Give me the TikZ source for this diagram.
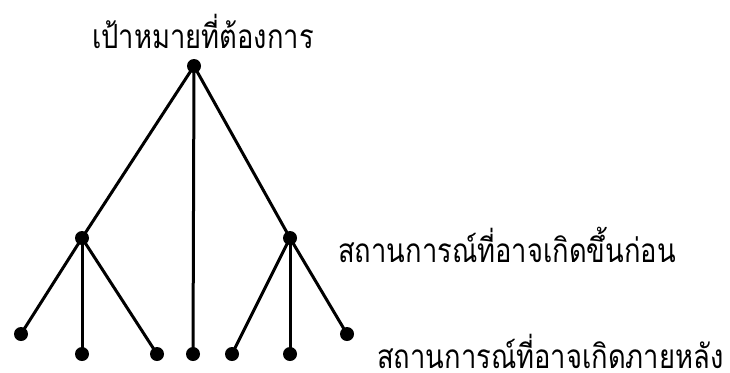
\documentclass[tikz,border=0pt]{standalone}
\usepackage{fontspec}
\newfontfamily\thaifont[Script=Thai,FakeStretch=0.82]{Loma}
\usetikzlibrary{positioning}

\begin{document}
\begin{tikzpicture}[x=0.75pt, y=-0.75pt,
  dot/.style={circle, fill=black, inner sep=0pt, minimum size=10.5pt},
  lbl/.style={font=\thaifont\fontsize{25}{30}\selectfont, inner sep=0pt},
  br/.style={line width=2.25pt}]
  \useasboundingbox (0,0) rectangle (730,372);
  % goal and the two first outcomes
  \node[dot] (goal) at (194,66) {};
  \node[dot] (m1) at (82,238) {};
  \node[dot] (m2) at (290,238) {};
  % later outcomes
  \node[dot] (l1) at (21,334) {};
  \node[dot] (l2) at (82,354) {};
  \node[dot] (l3) at (157,354) {};
  \node[dot] (l4) at (193,354) {};
  \node[dot] (l5) at (232,354) {};
  \node[dot] (l6) at (290,354) {};
  \node[dot] (l7) at (347,334) {};
  % labels
  \node[lbl, anchor=base] (tgoal) at (203,48) {เป้าหมายที่ต้องการ};
  \node[lbl, anchor=base west] (tfirst) at (338,262) {สถานการณ์ที่อาจเกิดขึ้นก่อน};
  \node[lbl, anchor=base west] (tlater) at (377,368) {สถานการณ์ที่อาจเกิดภายหลัง};
  % branches
  \draw[br] (goal.center) -- (m1.center);
  \draw[br] (goal.center) -- (l4.center);
  \draw[br] (goal.center) -- (m2.center);
  \foreach \leaf in {l1,l2,l3} \draw[br] (m1.center) -- (\leaf.center);
  \foreach \leaf in {l5,l6,l7} \draw[br] (m2.center) -- (\leaf.center);
\end{tikzpicture}
\end{document}
